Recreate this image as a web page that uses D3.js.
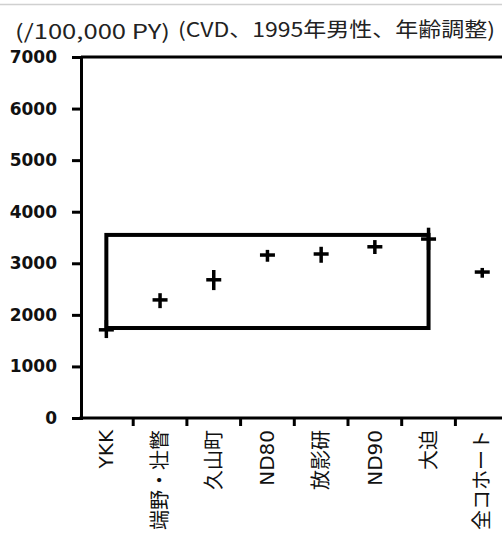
<!DOCTYPE html>
<html><head><meta charset="utf-8">
<script src="https://cdn.jsdelivr.net/npm/d3@7"></script>
<style>body{margin:0;background:#fff}svg{display:block}</style>
</head><body>
<script>
const categories = ["YKK","端野・壮瞥","久山町","ND80","放影研","ND90","大迫","全コホート"];
const values = [1710, 2290, 2680, 3160, 3180, 3320, 3470, 2830];
const lower  = [1550, 2130, 2480, 3030, 3010, 3180, 3260, 2720];
const upper  = [1900, 2420, 2870, 3260, 3320, 3450, 3690, 2910];
const boxRange = [1745, 3550];
const boxCategories = ["YKK","大迫"];
const yTicks = [0,1000,2000,3000,4000,5000,6000,7000];
const unitLabel = "(/100,000 PY)";
const titleLabel = "(CVD、1995年男性、年齢調整)";

const W = 502, H = 538;
const svg = d3.select("body").append("svg").attr("width", W).attr("height", H);

const x = d3.scaleBand().domain(categories).range([79.5, 79.5 + 8*53.7]);
const y = d3.scaleLinear().domain([0, 7000]).range([418, 57]);
const cx = c => x(c) + x.bandwidth()/2;

// faint top rule
svg.append("line").attr("x1",0).attr("x2",W).attr("y1",4.5).attr("y2",4.5)
  .attr("stroke","#d0d0d0").attr("stroke-width",1.5);

// titles
svg.append("text").attr("x",15).attr("y",39).text(unitLabel)
  .attr("textLength",155).attr("lengthAdjust","spacingAndGlyphs")
  .attr("font-family","'Noto Sans CJK JP'").attr("font-size",20).attr("fill","#222");
svg.append("text").attr("x",178).attr("y",37).text(titleLabel)
  .attr("textLength",317).attr("lengthAdjust","spacingAndGlyphs")
  .attr("font-family","'Noto Sans CJK JP'").attr("font-size",20).attr("fill","#222");

// frame: top line
svg.append("line").attr("x1",81).attr("x2",W).attr("y1",y(7000)).attr("y2",y(7000))
  .attr("stroke","#000").attr("stroke-width",3);

// y axis
const yAxis = d3.axisLeft(y).tickValues(yTicks).tickSize(9).tickPadding(15).tickFormat(d3.format("d"));
const gy = svg.append("g").attr("transform","translate(81,0)").call(yAxis);
gy.select(".domain").attr("stroke","#000").attr("stroke-width",3);
gy.selectAll(".tick line").attr("stroke","#000").attr("stroke-width",3);
gy.selectAll(".tick text").attr("font-family","'DejaVu Sans'").attr("font-weight","bold")
  .attr("font-size",17).attr("fill","#111");

// x axis
const gx = svg.append("g").attr("transform","translate(0,418)");
gx.append("line").attr("x1",79.5).attr("x2",W).attr("y1",0).attr("y2",0)
  .attr("stroke","#000").attr("stroke-width",3);
gx.selectAll("line.tk").data(categories.slice(1)).enter().append("line").attr("class","tk")
  .attr("x1",d=>x(d)).attr("x2",d=>x(d)).attr("y1",0).attr("y2",8)
  .attr("stroke","#000").attr("stroke-width",3);
gx.selectAll("text").data(categories).enter().append("text")
  .attr("transform",d=>`translate(${cx(d)+7},12) rotate(-90)`)
  .attr("text-anchor","end")
  .attr("font-family","'DejaVu Sans','Noto Sans CJK JP'").attr("font-size",20).attr("fill","#111")
  .text(d=>d);

// box
svg.append("rect")
  .attr("x", cx(boxCategories[0])).attr("y", y(boxRange[1]))
  .attr("width", cx(boxCategories[1]) - cx(boxCategories[0]))
  .attr("height", y(boxRange[0]) - y(boxRange[1]))
  .attr("fill","none").attr("stroke","#000").attr("stroke-width",4);

// markers
const pts = categories.map((c,i)=>({c, v:values[i], lo:lower[i], hi:upper[i]}));
const g = svg.append("g").attr("stroke","#000").attr("stroke-width",3.5);
g.selectAll("line.v").data(pts).enter().append("line").attr("class","v")
  .attr("x1",d=>cx(d.c)).attr("x2",d=>cx(d.c)).attr("y1",d=>y(d.lo)).attr("y2",d=>y(d.hi));
g.selectAll("line.h").data(pts).enter().append("line").attr("class","h")
  .attr("x1",d=>cx(d.c)-7.5).attr("x2",d=>cx(d.c)+7.5).attr("y1",d=>y(d.v)).attr("y2",d=>y(d.v));
</script>
</body></html>
